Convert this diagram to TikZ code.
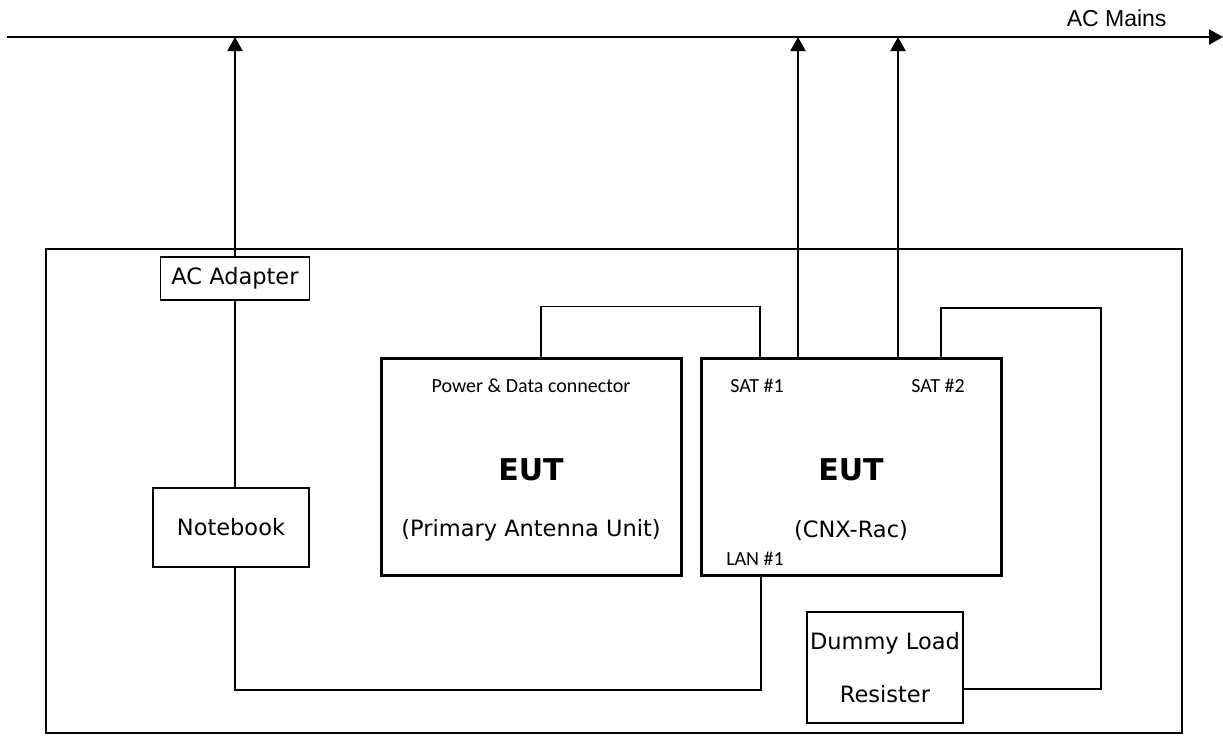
\documentclass[tikz,border=0pt]{standalone}
\usepackage{fontspec}
\setmainfont{DejaVu Sans}
\newfontfamily\calfont{Carlito}
\newfontfamily\arialfont{Liberation Sans}
\usetikzlibrary{arrows.meta}

\begin{document}
\begin{tikzpicture}[x=1pt,y=-1pt,
		box/.style={draw,line width=1.5pt,inner sep=0pt,font=\fontsize{22.5}{27}\selectfont},
		eutbox/.style={draw,line width=3pt,minimum width=300pt,minimum height=217pt},
		wire/.style={line width=1.5pt},
		feed/.style={line width=2pt,-{Triangle[width=15pt,length=14pt]}},
		tag/.style={font=\calfont\fontsize{20}{24}\selectfont},
		big/.style={font=\fontsize{22.5}{27}\selectfont},
		title/.style={font=\bfseries\fontsize{30}{36}\selectfont}]
		\useasboundingbox (0,0) rectangle (1223,736);
		% mains line
		\coordinate (mainsL) at (7,37);
		\coordinate (mainsR) at (1223,37);
		\draw[feed] (mainsL) -- (mainsR);
		\node[anchor=base east,font=\arialfont\fontsize{23}{27}\selectfont] (mains) at (1170,27) {AC Mains};
		% table
		\draw[wire] (46,249) rectangle (1182,733);
		\node[box,minimum width=149pt,minimum height=43pt] (adapter) at (235,278.5) {AC Adapter};
		\node[box,minimum width=156pt,minimum height=79pt] (notebook) at (231,527.5) {Notebook};
		\node[eutbox] (pau) at (531,466.5) {};
		\node[eutbox] (cnx) at (851,466.5) {};
		\node[box,minimum width=156pt,minimum height=111pt,align=center] (dummy) at (885,667.5) {Dummy Load\\[26pt]Resister};
		% texts in the EUTs
		\node[tag] (pdc) at ([yshift=80.5]pau.center) {Power \& Data connector};
		\node[title] (eut1) at ([yshift=-3.5]pau.center) {EUT};
		\node[big] (pauname) at ([yshift=-63.5]pau.center) {(Primary Antenna Unit)};
		\node[tag] (sat1tag) at ([xshift=-94,yshift=80.5]cnx.center) {SAT \#1};
		\node[tag] (sat2tag) at ([xshift=87,yshift=80.5]cnx.center) {SAT \#2};
		\node[title] (eut2) at ([yshift=-3.5]cnx.center) {EUT};
		\node[big] (cnxname) at ([yshift=-63.5]cnx.center) {(CNX-Rac)};
		\node[tag] (lantag) at ([xshift=-96,yshift=-92.5]cnx.center) {LAN \#1};
		% cables
		\coordinate (sat1) at ([xshift=-53]cnx.north);
		\coordinate (sat2) at ([xshift=47]cnx.north);
		\draw[feed] (adapter.north) -- (adapter.north |- mainsL);
		\draw[feed] (sat1) -- (sat1 |- mainsL);
		\draw[feed] (sat2) -- (sat2 |- mainsL);
		\draw[wire] (adapter.south) -- (adapter.south |- notebook.north);
		\draw[wire] (adapter.south |- notebook.south) -- ++(0,122) -| ([xshift=-90]cnx.south);
		\draw[wire] ([xshift=10]pau.north) -- ++(0,-50) -| ([xshift=-91]cnx.north);
		\draw[wire] ([yshift=-21.5]dummy.east) -| (1101,308) -| ([xshift=90]cnx.north);
	\end{tikzpicture}
\end{document}
